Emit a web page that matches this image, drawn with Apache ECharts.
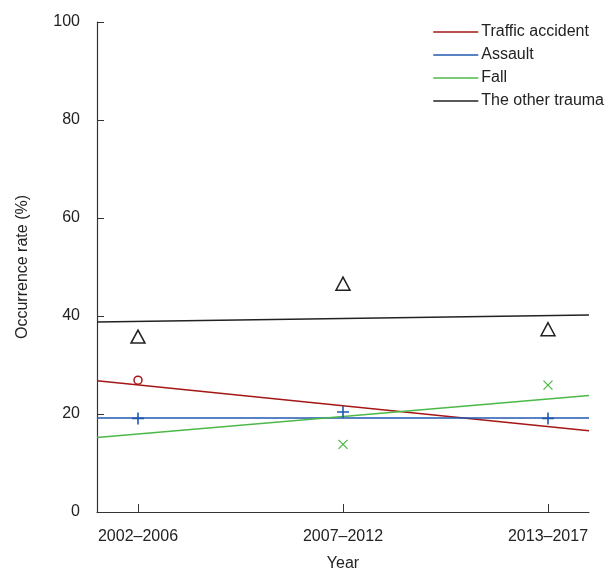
<!DOCTYPE html>
<html>
<head>
<meta charset="utf-8">
<script src="https://cdn.jsdelivr.net/npm/echarts@6/dist/echarts.min.js"></script>
<style>
html,body{margin:0;padding:0;background:#fff;}
#c{width:611px;height:577px;}
</style>
</head>
<body>
<div id="c"></div>
<script>
var categories = ['2002\u20132006', '2007\u20132012', '2013\u20132017'];
var seriesNames = ['Traffic accident', 'Assault', 'Fall', 'The other trauma'];
// observed points (null = not visible)
var trafficPts = [26.9, null, null];
var assaultPts = [19.1, 20.4, 19.1];
var fallPts = [null, 13.8, 25.9];
var otherPts = [35.8, 46.6, 37.3];
// linear trend lines: values at the left and right ends of the x range
var xRange = [-0.2, 2.2];
var trafficTrend = [26.8, 16.6];
var assaultTrend = [19.2, 19.2];
var fallTrend = [15.2, 23.8];
var otherTrend = [38.8, 40.2];
var yTicks = [0, 20, 40, 60, 80, 100];

var colors = ['#a51616', '#2059b0', '#4cb848', '#222222'];
var FONT = '"Liberation Sans", Arial, sans-serif';

function pts(arr) {
  var out = [];
  arr.forEach(function (v, i) { if (v !== null) out.push([i, v]); });
  return out;
}
function trend(arr) {
  return [[xRange[0], arr[0]], [xRange[1], arr[1]]];
}

var pointsArr = [trafficPts, assaultPts, fallPts, otherPts];
var trendArr = [trafficTrend, assaultTrend, fallTrend, otherTrend];
var symbols = [
  { symbol: 'circle', size: 8, fill: 'transparent', bw: 1.5 },
  { symbol: 'path://M5,0 L5,10 M0,5 L10,5', size: 12, fill: 'none', bw: 1.6 },
  { symbol: 'path://M0,0 L10,10 M10,0 L0,10', size: 9, fill: 'none', bw: 1.3 },
  { symbol: 'triangle', size: [14, 13], fill: 'transparent', bw: 1.5 }
];

var series = [];
seriesNames.forEach(function (name, k) {
  series.push({
    name: name,
    type: 'line',
    data: trend(trendArr[k]),
    showSymbol: false,
    symbol: 'none',
    lineStyle: { color: colors[k], width: 1.5 },
    itemStyle: { color: colors[k] },
    silent: true,
    z: 2
  });
  series.push({
    name: name + ' points',
    type: 'scatter',
    data: pts(pointsArr[k]),
    symbol: symbols[k].symbol,
    symbolSize: symbols[k].size,
    symbolKeepAspect: true,
    itemStyle: { color: symbols[k].fill, borderColor: colors[k], borderWidth: symbols[k].bw, opacity: 1 },
    z: 3
  });
});

var chart = echarts.init(document.getElementById('c'), null, { renderer: 'canvas' });
chart.setOption({
  animation: false,
  backgroundColor: '#fff',
  textStyle: { fontFamily: FONT },
  grid: { left: 97, right: 22, top: 22, bottom: 63, containLabel: false },
  legend: {
    data: seriesNames.map(function (n, k) {
      return { name: n, itemStyle: { color: colors[k] } };
    }),
    orient: 'vertical',
    right: 2,
    top: 18,
    itemGap: 5,
    itemWidth: 45,
    itemHeight: 1.5,
    icon: 'rect',
    selectedMode: false,
    textStyle: { fontFamily: FONT, fontSize: 16, color: '#222', lineHeight: 18, padding: [0, 0, 0, -2] }
  },
  xAxis: {
    type: 'value',
    min: xRange[0],
    max: xRange[1],
    name: 'Year',
    nameLocation: 'middle',
    nameGap: 44,
    nameTextStyle: { fontFamily: FONT, fontSize: 16, color: '#222' },
    axisLine: { onZero: false, lineStyle: { color: '#333', width: 1.2 } },
    axisTick: { show: true, inside: true, length: 8, customValues: [0, 1, 2], lineStyle: { color: '#333' } },
    axisLabel: {
      customValues: [0, 1, 2],
      formatter: function (v) { return categories[Math.round(v)]; },
      fontFamily: FONT, fontSize: 16, color: '#222', margin: 17
    },
    splitLine: { show: false }
  },
  yAxis: {
    type: 'value',
    min: 0,
    max: 100,
    interval: 20,
    name: 'Occurrence rate (%)',
    nameLocation: 'middle',
    nameGap: 66,
    nameRotate: 90,
    nameTextStyle: { fontFamily: FONT, fontSize: 16, color: '#222' },
    axisLine: { show: true, onZero: false, lineStyle: { color: '#333', width: 1.2 } },
    axisTick: { show: true, inside: true, length: 7, lineStyle: { color: '#333' } },
    axisLabel: {
      formatter: function (v) { return yTicks.indexOf(v) >= 0 ? String(v) : ''; },
      fontFamily: FONT, fontSize: 16, color: '#222', margin: 17
    },
    splitLine: { show: false }
  },
  series: series
});
</script>
</body>
</html>
